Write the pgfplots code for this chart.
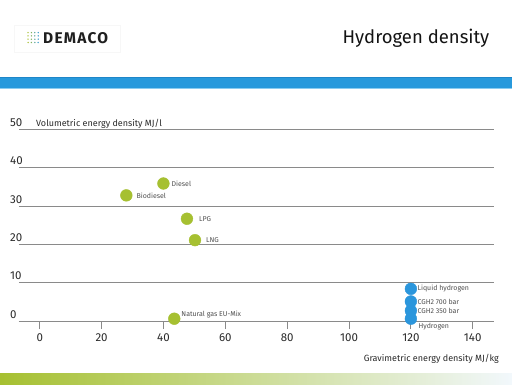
\documentclass[border=0pt]{standalone}
\usepackage{pgfplots}
\pgfplotsset{compat=1.18}
\usepackage{fontspec}
\setmainfont{Fira Sans}
\definecolor{dgreen}{HTML}{A6C031}
\definecolor{dblue}{HTML}{2B96DC}
\definecolor{band}{HTML}{2799DC}
\definecolor{bandedge}{HTML}{1F86C8}
\definecolor{bandlight}{HTML}{8ACCF0}
\definecolor{gridgray}{HTML}{8A8A8A}
\definecolor{txt}{HTML}{2A2A2A}
\definecolor{lbl}{HTML}{505050}
\definecolor{gradmid}{HTML}{B4D8CC}
\definecolor{gradright}{HTML}{F2F8FC}
\begin{document}
\begin{tikzpicture}[x=1pt,y=1pt]
\useasboundingbox (0,0) rectangle (512,384);
\fill[white] (0,0) rectangle (512,384);
% header
\draw[black!3, line width=0.5pt] (14,332) rectangle (120,359);
\foreach \i in {0,1,2,3}{\foreach \j in {0,1,2,3}{
  \pgfmathtruncatemacro{\mix}{100-\i*30}
  \fill[dgreen!\mix!dblue] (28+\i*3.4,341.5+\j*3.3) circle (0.75);
}}
\node[anchor=base west, inner sep=0pt, text=black!88] at (43,341) {\fontsize{15.5}{16}\selectfont\bfseries\addfontfeatures{LetterSpace=8}DEMACO};
\node[anchor=base east, inner sep=0pt, text=black!92] at (489.5,340.5) {\fontsize{18.5}{20}\selectfont Hydrogen density};
\fill[band] (0,295) rectangle (512,307.5);
\fill[bandedge] (0,306.5) rectangle (512,307.5);
\fill[bandlight] (0,295) rectangle (512,296.2);
% footer gradient
\shade[left color=dgreen, middle color=gradmid, right color=gradright] (0,0) rectangle (512,11);
\begin{axis}[
  at={(19pt,63pt)}, anchor=south west,
  x=3.093pt, y=3.83pt,
  xmin=-6.7, xmax=146.9, ymin=0, ymax=50,
  clip=false,
  axis x line*=bottom, axis y line*=left,
  x axis line style={draw=gridgray, line width=0.8pt},
  y axis line style={draw=none},
  xtick={0,20,...,140}, ytick={0,10,...,50},
  ymajorgrids, grid style={gridgray, line width=0.8pt},
  tick align=outside, major tick length=8pt,
  xtick style={gridgray, line width=0.8pt},
  ytick style={draw=none},
  /pgf/number format/assume math mode=true,
  ticklabel style={font=\fontsize{11.5}{12}\selectfont, text=txt},
  yticklabel style={anchor=south west, inner sep=0pt, xshift=-1pt, yshift=2.5pt},
  xticklabel style={inner sep=0pt, yshift=-4pt},
]
\addplot[dgreen, only marks, mark=*, mark size=5.9pt, mark options={fill=dgreen, draw=none}]
  coordinates {(40,35.9) (28,32.8) (47.6,26.7) (50.2,21.1) (43.5,0.6)};
\addplot[dblue, only marks, mark=*, mark size=5.9pt, mark options={fill=dblue, draw=none}]
  coordinates {(120,0.6) (120,2.7) (120,5.1) (120,8.4)};
\begin{scope}[every node/.style={anchor=west, inner sep=0pt, text=lbl, font=\fontsize{7}{8}\selectfont}]
\node at (axis cs:40,35.9) [xshift=8pt] {Diesel};
\node at (axis cs:28,32.8) [xshift=10pt] {Biodiesel};
\node at (axis cs:47.6,26.7) [xshift=12pt] {LPG};
\node at (axis cs:50.2,21.1) [xshift=11pt] {LNG};
\node at (axis cs:43.5,0.6) [xshift=7pt, yshift=4pt] {Natural gas EU-Mix};
\node at (axis cs:120,8.4) [xshift=6.5pt] {Liquid hydrogen};
\node at (axis cs:120,5.1) [xshift=6.5pt, yshift=-0.7pt] {CGH2 700 bar};
\node at (axis cs:120,2.7) [xshift=6.5pt, yshift=-0.3pt] {CGH2 350 bar};
\node at (axis cs:120,0.6) [xshift=7.5pt, yshift=-7.5pt] {Hydrogen};
\end{scope}
\node[anchor=west, inner sep=0pt, text=txt, font=\fontsize{9}{10}\selectfont] at (axis cs:-1.2,50) [yshift=6pt] {Volumetric energy density MJ/l};
\node[anchor=east, inner sep=0pt, text=txt, font=\fontsize{9}{10}\selectfont] at (axis cs:148.5,-9.9) {Gravimetric energy density MJ/kg};
\end{axis}
\end{tikzpicture}
\end{document}
